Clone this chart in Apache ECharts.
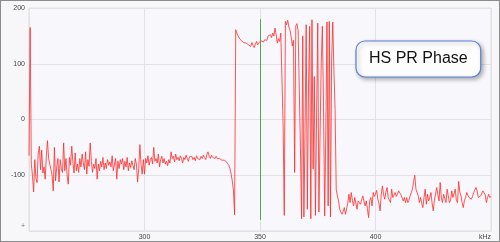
<!DOCTYPE html>
<html>
<head>
<meta charset="utf-8">
<script src="https://cdn.jsdelivr.net/npm/echarts@6/dist/echarts.min.js"></script>
<style>
html,body{margin:0;padding:0;background:#f7f7fa;}
#wrap{width:498px;height:240px;border:1px solid #8c8c8c;background:#f7f7fa;}
#chart{width:498px;height:240px;}
</style>
</head>
<body>
<div id="wrap"><div id="chart"></div></div>
<script>
// frequency grid (kHz)
const freqStep = 0.5;
const segmentStarts = [250, 300, 340, 360, 384];
// phase (degrees), one array per segment
const phaseA = [
  -65, 165, -80, -100, -130, -72, -105, -113, -60, -48,
  -90, -55, -96, -85, -107, -66, -38, -70, -80, -90,
  -100, -128, -50, -110, -85, -70, -112, -72, -88, -95,
  -42, -92, -70, -100, -116, -68, -82, -48, -76, -96,
  -60, -92, -80, -95, -70, -85, -62, -78, -90, -58,
  -98, -72, -84, -42, -75, -95, -80, -88, -70, -107,
  -80, -92, -75, -85, -68, -90, -78, -88, -72, -82,
  -76, -85, -65, -92, -80, -70, -107, -75, -88, -72,
  -80, -70, -90, -75, -85, -68, -92, -78, -86, -74,
  -82, -90, -70, -80, -112, -88, -45, -80, -98, -72
];
const phaseB = [
  -98, -70, -78, -65, -82, -72, -68, -80, -50, -75,
  -70, -78, -62, -85, -72, -66, -78, -70, -80, -75,
  -83, -72, -78, -58, -70, -66, -76, -62, -72, -68,
  -74, -65, -70, -78, -68, -72, -64, -70, -75, -67,
  -70, -66, -72, -68, -74, -65, -70, -67, -72, -66,
  -70, -64, -68, -72, -62, -58, -66, -70, -64, -68,
  -68, -70, -66, -70, -72, -70, -72, -73, -71, -73,
  -74, -76, -78, -82, -88, -98, -110, -127, -171, 161
];
const phaseC = [
  155, 150, 146, 143, 141, 140, 138, 139, 137, 136,
  134, 136, 131, 138, 133, 129, 135, 140, 134, 138,
  137, 141, 144, 139, 143, 146, 142, 150, 148, 152,
  147, 155, 150, 164, 152, 137, 145, 140, 155, 158
];
const phaseD = [
  -8, -172, 176, 170, 178, 166, 160, 148, 132, 142,
  -95, 168, 172, 160, 158, -50, -178, 150, -175, -20,
  170, -161, 60, 167, -178, 179, -89, 77, -172, 10,
  173, -166, -30, 100, 167, 24, -173, -20, 175, -155,
  176, -175, 105, 175, 89, 18, -125, -137
];
const phaseE = [
  -146, -161, -166, -170, -165, -158, -170, -173, -150, -134,
  -149, -131, -145, -155, -140, -150, -161, -146, -149, -152,
  -144, -137, -140, -155, -146, -160, -176, -145, -140, -155,
  -131, -138, -134, -127, -143, -150, -164, -134, -119, -135,
  -143, -130, -122, -140, -145, -149, -125, -140, -143, -131,
  -138, -134, -128, -131, -135, -137, -146, -140, -149, -140,
  -149, -145, -137, -131, -125, -111, -100, -125, -131, -137,
  -149, -140, -150, -158, -140, -125, -152, -134, -146, -140,
  -131, -150, -164, -145, -143, -122, -135, -146, -113, -140,
  -149, -134, -142, -149, -125, -137, -149, -145, -128, -140,
  -143, -125, -145, -149, -111, -130, -137, -149, -158, -145,
  -140, -131, -136, -140, -137, -143, -138, -131, -128, -122,
  -128, -140, -143, -137, -140, -128, -131, -135, -149, -140,
  -134, -140, -138
];
const yTicks = [-200, -100, 0, 100, 200];
const xTicks = [250, 300, 350, 400, 450];
const xUnit = 'kHz';
const markerFreq = 350;
const seriesName = 'HS PR Phase';

const segments = [phaseA, phaseB, phaseC, phaseD, phaseE];
const data = [];
segments.forEach((seg, i) => {
  seg.forEach((v, j) => data.push([segmentStarts[i] + j * freqStep, v]));
});

const chart = echarts.init(document.getElementById('chart'), null, {renderer: 'canvas'});
chart.setOption({
  animation: false,
  backgroundColor: '#f7f7fa',
  grid: {left: 28, right: 8, top: 7, bottom: 10, show: true,
         backgroundColor: '#f8f8fc', borderColor: '#dedede', borderWidth: 1},
  legend: {
    data: [{name: seriesName, icon: 'none'}],
    left: 355, top: 40,
    itemWidth: 0, itemHeight: 16, itemGap: 0,
    selectedMode: false,
    backgroundColor: '#fdfdfd',
    borderColor: '#5b7fdb', borderWidth: 1.2, borderRadius: 9,
    padding: [10, 13, 10, 8],
    shadowBlur: 4, shadowColor: 'rgba(0,0,0,0.3)', shadowOffsetX: 2, shadowOffsetY: 2,
    textStyle: {fontSize: 16, color: '#111', fontFamily: 'Liberation Sans, Arial, sans-serif'}
  },
  xAxis: {
    type: 'value', min: xTicks[0], max: xTicks[xTicks.length - 1], interval: 50,
    axisLine: {show: false}, axisTick: {show: false},
    splitLine: {show: true, lineStyle: {color: '#e2e2e2', width: 1}},
    axisLabel: {
      fontSize: 7, color: '#444', margin: 3, fontFamily: 'Liberation Sans, Arial, sans-serif',
      alignMaxLabel: 'right',
      formatter: v => v === xTicks[0] ? '' : (v === xTicks[xTicks.length - 1] ? xUnit : String(v))
    }
  },
  yAxis: {
    type: 'value', min: yTicks[0], max: yTicks[yTicks.length - 1], interval: 100,
    axisLine: {show: false}, axisTick: {show: false},
    splitLine: {show: true, lineStyle: {color: '#e2e2e2', width: 1}},
    axisLabel: {
      fontSize: 7, color: '#444', margin: 4, fontFamily: 'Liberation Sans, Arial, sans-serif',
      formatter: v => v === yTicks[0] ? '{m|+}' : String(v),
      rich: {m: {fontSize: 7, color: '#777', padding: [0, 0, 10, 0]}}
    }
  },
  series: [{
    name: seriesName,
    type: 'line',
    data: data,
    showSymbol: false,
    symbol: 'none',
    lineStyle: {color: '#ff2a2a', width: 0.8},
    itemStyle: {color: '#ff2a2a'},
    markLine: {
      silent: true, symbol: 'none', label: {show: false},
      lineStyle: {color: '#5a9e5a', width: 1, type: 'solid'},
      data: [[{coord: [markerFreq, 180]}, {coord: [markerFreq, -180]}]]
    }
  }]
});
</script>
</body>
</html>
